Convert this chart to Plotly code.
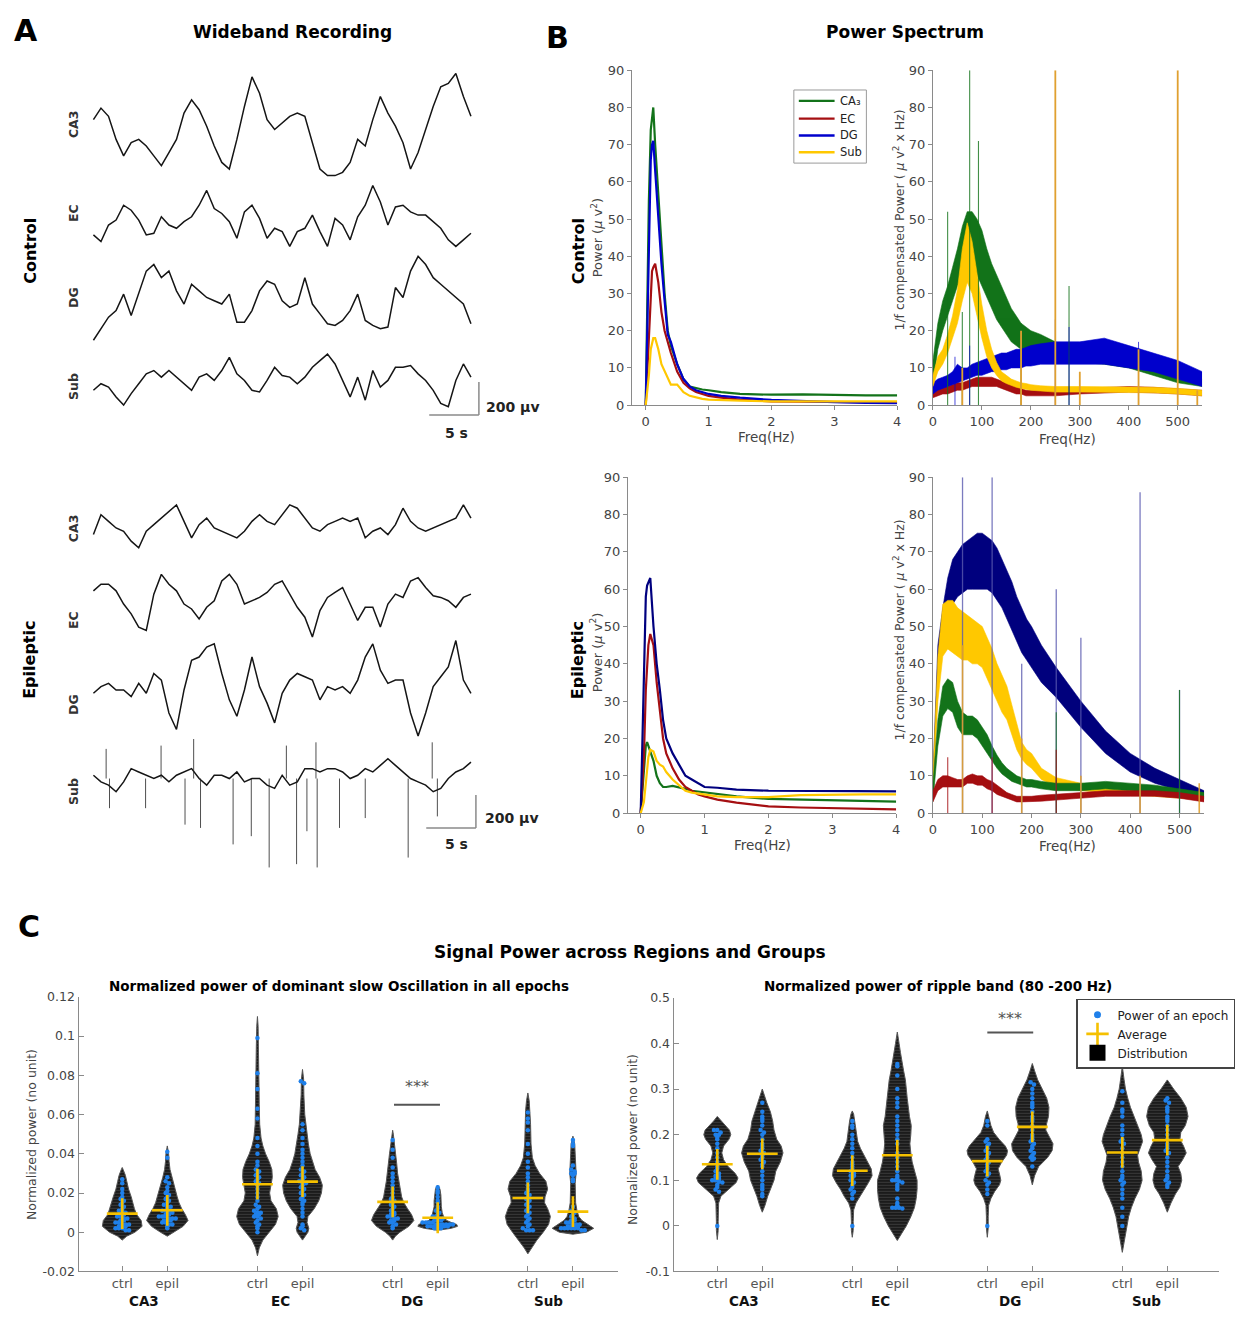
import plotly.graph_objects as go

W, H = 1235, 1319
FONT = "DejaVu Sans"

# ---------------- Panel A: wideband traces (µV) ----------------
A_DT = 0.76  # seconds between read samples
CTRL_CA3 = [120,190,140,0,-100,-20,0,-40,-100,-160,-80,0,160,240,180,80,-40,-140,-180,0,200,380,280,120,60,100,140,160,140,-20,-180,-220,-220,-200,-140,0,-40,120,260,160,80,-20,-180,-80,60,200,320,340,400,260,140]
CTRL_EC = [-100,-140,-40,-10,80,50,-10,-100,-90,10,-40,-60,-20,10,80,170,60,30,-20,-120,40,80,0,-120,-60,-80,-170,-80,-60,20,-80,-170,0,-40,-130,10,80,200,100,-40,70,80,40,20,20,-20,-60,-130,-170,-130,-90]
CTRL_DG = [-260,-190,-120,-80,20,-110,20,160,200,120,160,40,-40,80,40,0,-20,-40,20,-150,-150,-80,40,100,80,-20,-60,-40,120,-40,-100,-160,-170,-140,-80,20,-140,-170,-190,-180,60,0,160,250,200,120,80,40,0,-40,-160]
CTRL_SUB = [-60,-20,-40,-100,-150,-80,-20,40,60,20,60,20,-20,-60,20,40,0,60,140,40,0,-60,-70,0,80,30,20,-20,20,80,120,160,100,0,-100,20,-120,60,-40,0,80,80,90,40,0,-60,-140,-160,0,100,20]
EPIL_CA3 = [-60,60,20,-20,-40,-100,-140,-40,0,40,80,120,20,-80,0,40,-20,-40,-60,-80,-40,20,60,20,0,60,120,100,40,-20,-40,0,20,40,20,40,-80,-40,-20,-60,0,100,20,-20,-40,-20,0,20,40,120,40]
EPIL_EC = [60,100,100,60,-20,-80,-160,-180,40,160,100,60,-20,-50,-110,-40,0,120,160,100,-20,0,20,50,100,120,40,-40,-100,-220,-60,20,50,80,-20,-120,-40,-40,-160,-20,40,20,120,140,80,30,20,0,-40,20,40]
EPIL_DG = [-40,0,20,-20,-20,-60,20,-40,80,40,-160,-260,-20,160,180,240,260,80,-80,-180,-20,180,0,-100,-220,-40,40,80,60,40,-80,0,-20,0,-40,40,180,260,100,20,40,40,-160,-300,-160,0,60,120,280,40,-40]
EPIL_SUB = [20,-20,-40,-80,-20,60,40,20,0,20,-20,20,40,60,0,-40,20,20,0,40,-20,0,0,-40,-60,20,-40,-20,60,60,40,60,60,40,0,20,60,40,80,120,80,40,0,-20,-40,-80,-60,0,40,60,100]
EPIL_SUB_SPIKE_T = [1.62,5.25,9.22,10.78,14.06,15.89,17.69,20.45,21.49,22.52,24.77,27.36,31.68,34.62,1.28,6.81,10.09,19.42,22.4,34.1]
EPIL_SUB_SPIKE_V = [-180,-180,-280,-300,-400,-350,-540,-520,-320,-540,-300,-240,-480,-230,180,200,240,200,220,220]

# ---------------- Panel B: power spectra ----------------
F_LOW = [0,0.05,0.08,0.1,0.12,0.15,0.2,0.25,0.3,0.35,0.4,0.5,0.6,0.7,0.8,0.9,1.0,1.2,1.5,2.0,2.5,3.0,3.5,4.0]
CTRL_LOW_CA3 = [0,55,74,78,80,70,56,42,30,20,16,11,7,5,4.5,4.2,4,3.5,3,2.8,2.9,2.7,2.6,2.6]
CTRL_LOW_EC = [0,20,32,36,37,38,33,25,20,17,14,9,6,4.5,3.5,3,2.5,2,1.5,1,0.9,0.8,0.7,0.7]
CTRL_LOW_DG = [0,48,66,70,71,63,50,38,28,19,17,11,7,5,4,3.5,3,2.5,2,1.4,1,0.8,0.6,0.5]
CTRL_LOW_SUB = [0,8,15,17,18,18,15,11,9,7.5,5.5,5.5,3.5,2.5,2,1.7,1.5,1.3,1.2,1,1,1,1,1]
EPIL_LOW_CA3 = [0,12,18,19,18,16,14,10,8,7,7,7.3,7,6.5,6,5.8,5.5,5,4.5,3.8,3.6,3.3,3.2,3.1]
EPIL_LOW_EC = [0,15,33,40,45,48,45,35,28,20,16,12,9,7,6,5,4.5,3.6,2.8,1.8,1.5,1.3,1.1,1.0]
EPIL_LOW_DG = [0,35,58,61,62,63,50,40,33,25,20,16,13,10,9,8,7,6.8,6.3,6,6,5.8,5.8,5.8]
EPIL_LOW_SUB = [0,3,8,12,15,17,16.5,14,13,12.5,11,9,7.5,6,5.5,5.2,5,4.5,4.3,4.3,4.8,5,5,5]

F_HIGH = [0,10,20,30,40,50,60,70,80,90,100,110,120,130,140,150,160,170,180,190,200,220,250,300,350,400,450,500,550]
CTRL_HI_CA3_LO = [5,15,20,24,28,32,35,38,37,35,32,29,26,23,21,19,17,16,15,14,14,13,12,11.5,11,10,8,6,5]
CTRL_HI_CA3_UP = [12,22,28,32,37,42,48,52,52,50,47,42,38,35,32,29,26,24,22,21,20,19,17,15,14,13,11,9,7]
CTRL_HI_EC_LO = [2,2.5,3,3,3.5,4,4,4.5,5,5,5,5,5,5,4.5,4,3.5,3,3,2.5,2.5,2.5,2.5,3,3.2,3.5,3.3,3,2.5]
CTRL_HI_EC_UP = [4,4.5,5,5,5.5,6,6,6.5,7,7.5,7.5,7.5,7.5,7,6.5,6,5.5,5,4.5,4,4,4,4,4.5,4.8,5,4.8,4.5,4]
CTRL_HI_DG_LO = [3,4,4.5,5,5.5,6,6.5,7,7.5,8,8,8.5,9,9,9.5,9.5,10,10,10,10.5,10.5,11,11,11,11,10,9,7,5]
CTRL_HI_DG_UP = [6,7,7.5,8,9,11,10,10,11,11.5,12,12.5,13,13.5,14,14,14.5,15,15,15.5,16,16.5,17,17,18,16,14,12,9]
CTRL_HI_SUB_LO = [5,9,11,14,18,22,28,33,30,24,18,13,10,8,6.5,5.8,5.2,4.8,4.5,4.2,4,3.8,3.5,3.5,3.5,3.5,3.3,3,2.5]
CTRL_HI_SUB_UP = [8,13,15,19,24,31,42,49,44,35,27,20,15,11.5,9,8,7,6.5,6,5.8,5.5,5.2,5,5,5,5,4.8,4.5,4]
EPIL_HI_CA3_LO = [3,18,26,28,27,23,21,21,21,20,18,16,14,12,10.5,9.5,8.5,8,7.5,7,7,6.5,6,6,6.5,6,5.5,5,4]
EPIL_HI_CA3_UP = [8,25,34,36,35,30,27,26,26,25,23,21,18,15.5,13.5,12,11,10,9.5,9,9,8.5,8,8,8.5,8,7.5,6.5,5.5]
EPIL_HI_EC_LO = [3,6,7,7,7,7,7,8,8,7.5,7.5,6.5,6,5,4.5,4,3.5,3,3,3,3,3.2,3.5,4,4.5,4.5,4.5,4,3]
EPIL_HI_EC_UP = [6,9,10,10,9.5,9,9,10,10.5,10,10,9,8.5,7.5,6.5,5.5,5,4.5,4.5,4.5,4.5,4.8,5,5.5,6,6,6,5.5,4.5]
EPIL_HI_DG_LO = [5,35,45,52,56,58,59,60,60,60,60,60,59,57,55,52,49,46,43,41,39,35,31,23,16,11,8,6,4]
EPIL_HI_DG_UP = [10,45,55,63,68,70,72,73,74,75,75,74,73,71,68,65,62,58,55,52,50,45,39,30,22,16,12,9,6]
EPIL_HI_SUB_LO = [5,30,42,44,43,42,41,41,40,40,39,36,33,30,27,25,21,17,14.5,13,12,9,7,6,5.5,5,4.5,4,3.5]
EPIL_HI_SUB_UP = [10,42,56,57,57,55,54,53,52,51,50,47,44,40,37,34,29,24,19,17,16,12,9.5,8,7.5,7,6.5,6,5]

# narrow line-noise peaks (frequency, height)
CTRL_SPK_CA3_F = [30,60,75,93,180,278]
CTRL_SPK_CA3_H = [52,25,90,71,22,32]
CTRL_SPK_DG_F = [45,75,250,278,420]
CTRL_SPK_DG_H = [13,16,23,21,17]
CTRL_SPK_SUB_F = [60,180,250,300,420,500,540]
CTRL_SPK_SUB_H = [10,20,90,9,15,90,4]
EPIL_SPK_DG_F = [60,120,180,250,300,420,500]
EPIL_SPK_DG_H = [90,90,40,60,47,86,33]
EPIL_SPK_CA3_F = [250,500]
EPIL_SPK_CA3_H = [27,33]
EPIL_SPK_EC_F = [30,120,250]
EPIL_SPK_EC_H = [15,15,17]
EPIL_SPK_SUB_F = [60,180,300,420,540]
EPIL_SPK_SUB_H = [45,20,10,10,8]

REGION_NAMES_B = ["CA₃", "EC", "DG", "Sub"]

# ---------------- Panel C: violins ----------------
GROUP_POS = [1,2,4,5,7,8,10,11]
GROUP_TICKS = ["ctrl","epil"]*4
REGIONS = ["CA3","EC","DG","Sub"]

SLOW_MEAN = [0.0095,0.0112,0.0245,0.0258,0.0155,0.0074,0.0175,0.0105]
SLOW_POINTS = [
    [0.027,0.025,0.022,0.02,0.018,0.017,0.016,0.015,0.014,0.013,0.012,0.011,0.011,0.01,0.009,0.009,0.008,0.008,0.007,0.007,0.006,0.006,0.005,0.005,0.004,0.004,0.004,0.003,0.003,0.003,0.002,0.002,0.002,0.001,0.001],
    [0.041,0.038,0.028,0.026,0.025,0.023,0.021,0.02,0.019,0.018,0.017,0.016,0.015,0.014,0.013,0.013,0.012,0.011,0.011,0.01,0.01,0.009,0.009,0.008,0.008,0.008,0.007,0.007,0.007,0.006,0.006,0.006,0.005,0.005,0.004,0.004,0.003,0.002],
    [0.099,0.081,0.073,0.063,0.058,0.048,0.044,0.04,0.036,0.034,0.032,0.031,0.03,0.029,0.028,0.027,0.026,0.025,0.024,0.022,0.02,0.018,0.016,0.014,0.013,0.012,0.011,0.01,0.01,0.009,0.009,0.008,0.008,0.007,0.006,0.005,0.004,0.003,0.002,0.0],
    [0.077,0.076,0.055,0.052,0.048,0.045,0.042,0.04,0.038,0.036,0.034,0.032,0.031,0.03,0.029,0.028,0.027,0.026,0.025,0.025,0.024,0.023,0.022,0.021,0.02,0.019,0.018,0.017,0.016,0.015,0.014,0.012,0.01,0.008,0.004,0.003,0.002,0.001],
    [0.047,0.042,0.038,0.033,0.03,0.028,0.026,0.024,0.022,0.02,0.018,0.017,0.016,0.015,0.014,0.013,0.012,0.011,0.01,0.009,0.009,0.008,0.008,0.007,0.007,0.006,0.006,0.005,0.005,0.004,0.003,0.002],
    [0.023,0.021,0.02,0.018,0.016,0.015,0.013,0.012,0.011,0.01,0.009,0.008,0.008,0.007,0.007,0.006,0.006,0.006,0.005,0.005,0.005,0.005,0.004,0.004,0.004,0.004,0.004,0.004,0.003,0.003,0.003,0.003,0.003,0.003,0.003,0.002,0.002,0.002],
    [0.061,0.058,0.056,0.052,0.045,0.04,0.036,0.033,0.03,0.028,0.026,0.024,0.022,0.021,0.02,0.019,0.018,0.017,0.016,0.015,0.014,0.013,0.012,0.011,0.01,0.009,0.008,0.007,0.006,0.005,0.004,0.003,0.002,0.001,0.001,0.001],
    [0.047,0.045,0.044,0.034,0.032,0.031,0.03,0.03,0.029,0.027,0.026,0.013,0.011,0.01,0.009,0.008,0.007,0.006,0.006,0.005,0.005,0.004,0.004,0.004,0.003,0.003,0.003,0.003,0.002,0.002,0.002,0.002,0.002,0.002,0.001,0.001],
]
# violin outline: (value, half-width in group units)
SLOW_PROFILES = [
    [(-0.004,0),(-0.002,0.1),(0,0.28),(0.003,0.44),(0.006,0.42),(0.009,0.32),(0.012,0.27),(0.015,0.24),(0.018,0.2),(0.022,0.14),(0.026,0.1),(0.029,0.07),(0.032,0.02),(0.033,0)],
    [(-0.002,0),(0,0.15),(0.003,0.35),(0.006,0.46),(0.009,0.4),(0.012,0.32),(0.015,0.26),(0.018,0.22),(0.022,0.17),(0.025,0.14),(0.028,0.1),(0.032,0.06),(0.036,0.04),(0.04,0.03),(0.044,0)],
    [(-0.012,0),(-0.008,0.04),(-0.004,0.12),(0,0.26),(0.004,0.4),(0.008,0.46),(0.012,0.42),(0.016,0.3),(0.02,0.27),(0.024,0.3),(0.028,0.33),(0.032,0.32),(0.036,0.26),(0.04,0.18),(0.044,0.12),(0.048,0.08),(0.055,0.05),(0.065,0.04),(0.08,0.035),(0.095,0.025),(0.105,0.015),(0.11,0)],
    [(-0.004,0),(-0.002,0.06),(0,0.12),(0.002,0.14),(0.005,0.1),(0.008,0.12),(0.012,0.26),(0.016,0.36),(0.02,0.42),(0.024,0.44),(0.028,0.38),(0.032,0.28),(0.036,0.22),(0.04,0.17),(0.045,0.13),(0.05,0.1),(0.055,0.07),(0.06,0.05),(0.07,0.03),(0.078,0.025),(0.083,0)],
    [(-0.004,0),(-0.002,0.06),(0,0.16),(0.003,0.36),(0.006,0.47),(0.009,0.42),(0.012,0.33),(0.015,0.25),(0.018,0.2),(0.022,0.17),(0.026,0.14),(0.03,0.11),(0.035,0.09),(0.04,0.07),(0.045,0.04),(0.05,0.015),(0.052,0)],
    [(0.001,0),(0.002,0.3),(0.003,0.44),(0.004,0.42),(0.005,0.3),(0.006,0.2),(0.008,0.13),(0.01,0.1),(0.013,0.08),(0.016,0.08),(0.019,0.07),(0.022,0.05),(0.024,0)],
    [(-0.011,0),(-0.008,0.08),(-0.004,0.2),(0,0.34),(0.004,0.46),(0.008,0.5),(0.012,0.44),(0.015,0.37),(0.018,0.38),(0.022,0.44),(0.026,0.4),(0.03,0.26),(0.034,0.16),(0.038,0.1),(0.045,0.07),(0.055,0.06),(0.062,0.05),(0.067,0.03),(0.071,0)],
    [(-0.001,0),(0,0.3),(0.002,0.46),(0.004,0.32),(0.006,0.2),(0.008,0.13),(0.011,0.09),(0.015,0.06),(0.02,0.05),(0.025,0.05),(0.03,0.07),(0.034,0.06),(0.04,0.05),(0.045,0.04),(0.049,0)],
]

RIPPLE_MEAN = [0.135,0.158,0.121,0.155,0.142,0.217,0.161,0.188]
RIPPLE_POINTS = [
    [0.21,0.21,0.205,0.2,0.2,0.195,0.19,0.18,0.17,0.16,0.15,0.14,0.13,0.125,0.12,0.115,0.11,0.108,0.105,0.103,0.1,0.1,0.097,0.095,0.09,0.085,0.08,0.075,0.0],
    [0.27,0.25,0.24,0.235,0.23,0.22,0.21,0.205,0.2,0.19,0.18,0.175,0.17,0.165,0.16,0.155,0.15,0.145,0.14,0.135,0.13,0.12,0.11,0.1,0.09,0.085,0.08,0.07,0.065],
    [0.23,0.22,0.215,0.2,0.19,0.18,0.17,0.16,0.15,0.14,0.135,0.13,0.125,0.12,0.115,0.11,0.11,0.105,0.1,0.095,0.09,0.085,0.08,0.075,0.07,0.06,0.0],
    [0.355,0.35,0.33,0.3,0.28,0.27,0.26,0.24,0.23,0.22,0.21,0.2,0.19,0.18,0.16,0.15,0.14,0.13,0.12,0.11,0.105,0.1,0.1,0.098,0.095,0.09,0.085,0.08,0.06,0.05,0.045,0.04,0.04,0.04,0.038],
    [0.23,0.22,0.19,0.185,0.18,0.175,0.17,0.165,0.16,0.155,0.15,0.145,0.14,0.135,0.13,0.125,0.12,0.115,0.11,0.1,0.095,0.09,0.08,0.07,0.0],
    [0.315,0.31,0.3,0.29,0.28,0.27,0.265,0.26,0.25,0.24,0.235,0.23,0.22,0.21,0.2,0.195,0.19,0.185,0.18,0.175,0.17,0.165,0.16,0.155,0.15,0.148,0.145,0.13],
    [0.295,0.27,0.255,0.25,0.24,0.22,0.21,0.2,0.19,0.185,0.18,0.17,0.16,0.15,0.14,0.13,0.12,0.11,0.105,0.1,0.095,0.09,0.08,0.07,0.06,0.04,0.02,0.0],
    [0.28,0.275,0.27,0.26,0.255,0.25,0.24,0.235,0.23,0.22,0.21,0.2,0.19,0.18,0.175,0.17,0.165,0.16,0.15,0.14,0.13,0.12,0.11,0.105,0.1,0.095,0.09,0.085],
]
RIPPLE_PROFILES = [
    [(-0.03,0),(-0.01,0.02),(0.01,0.02),(0.03,0.02),(0.05,0.03),(0.065,0.08),(0.08,0.24),(0.095,0.42),(0.105,0.46),(0.115,0.4),(0.13,0.24),(0.145,0.14),(0.16,0.1),(0.175,0.14),(0.19,0.26),(0.2,0.3),(0.21,0.27),(0.22,0.18),(0.23,0.08),(0.24,0)],
    [(0.03,0),(0.045,0.06),(0.065,0.12),(0.085,0.2),(0.1,0.26),(0.12,0.3),(0.14,0.4),(0.16,0.46),(0.175,0.42),(0.19,0.32),(0.21,0.26),(0.23,0.23),(0.25,0.18),(0.27,0.1),(0.285,0.05),(0.3,0)],
    [(-0.025,0),(-0.01,0.02),(0.01,0.02),(0.035,0.03),(0.05,0.08),(0.065,0.18),(0.08,0.26),(0.095,0.36),(0.11,0.44),(0.125,0.42),(0.14,0.34),(0.155,0.26),(0.17,0.18),(0.185,0.12),(0.2,0.1),(0.215,0.08),(0.23,0.06),(0.245,0.03),(0.252,0)],
    [(-0.032,0),(-0.02,0.08),(0,0.2),(0.02,0.3),(0.04,0.38),(0.06,0.42),(0.08,0.44),(0.1,0.44),(0.12,0.38),(0.14,0.33),(0.16,0.3),(0.18,0.28),(0.2,0.3),(0.22,0.31),(0.24,0.27),(0.26,0.24),(0.28,0.22),(0.3,0.2),(0.32,0.18),(0.34,0.14),(0.36,0.1),(0.38,0.07),(0.4,0.04),(0.425,0)],
    [(-0.025,0),(-0.005,0.02),(0.02,0.02),(0.045,0.03),(0.06,0.08),(0.075,0.16),(0.09,0.27),(0.1,0.3),(0.11,0.28),(0.125,0.24),(0.14,0.32),(0.155,0.43),(0.165,0.45),(0.175,0.4),(0.19,0.26),(0.205,0.14),(0.22,0.08),(0.24,0.04),(0.252,0)],
    [(0.09,0),(0.11,0.05),(0.13,0.14),(0.15,0.34),(0.165,0.44),(0.18,0.46),(0.195,0.38),(0.21,0.3),(0.225,0.32),(0.24,0.36),(0.26,0.37),(0.28,0.32),(0.3,0.22),(0.32,0.12),(0.34,0.05),(0.356,0)],
    [(-0.058,0),(-0.04,0.03),(-0.02,0.06),(0,0.1),(0.02,0.14),(0.04,0.2),(0.06,0.28),(0.08,0.38),(0.1,0.44),(0.12,0.42),(0.14,0.36),(0.155,0.34),(0.17,0.4),(0.185,0.45),(0.2,0.42),(0.22,0.34),(0.24,0.27),(0.26,0.18),(0.28,0.12),(0.3,0.07),(0.32,0.04),(0.35,0)],
    [(0.03,0),(0.05,0.08),(0.07,0.18),(0.085,0.28),(0.1,0.32),(0.115,0.3),(0.13,0.24),(0.145,0.34),(0.16,0.42),(0.175,0.36),(0.19,0.28),(0.205,0.3),(0.22,0.4),(0.24,0.46),(0.26,0.42),(0.28,0.3),(0.3,0.14),(0.32,0)],
]

# ---------------- helpers (page pixel -> paper fraction) ----------------
def PX(x):
    return x / W

def PY(y):
    return 1 - y / H

def xdom(a, b):
    return [PX(a), PX(b)]

def ydom(top, bot):
    return [PY(bot), PY(top)]

annotations = []

def ann(text, x, y, size=13, color="#222", bold=False, angle=0, xanchor="center", yanchor="middle"):
    annotations.append(dict(
        text=f"<b>{text}</b>" if bold else text, x=PX(x), y=PY(y), xref="paper", yref="paper",
        showarrow=False, font=dict(family=FONT, size=size, color=color), textangle=angle,
        xanchor=xanchor, yanchor=yanchor))

GREEN = "#13731a"
RED = "#a50f12"
BLUE = "#0000cc"
NAVY = "#00007f"
YELLOW = "#ffc800"
ORANGE = "#e0a030"
DOT = "#1f80ea"

fig = go.Figure()
shapes = []

# ---------------- Panel A ----------------
A_UVPX = 6.0
def a_off(py):
    return (880 - py) * A_UVPX

a_rows = [(CTRL_CA3, 133), (CTRL_EC, 213), (CTRL_DG, 293), (CTRL_SUB, 377),
          (EPIL_CA3, 523), (EPIL_EC, 600), (EPIL_DG, 687), (EPIL_SUB, 780)]
for vals, base in a_rows:
    t = [i * A_DT for i in range(len(vals))]
    off = a_off(base)
    fig.add_trace(go.Scatter(x=t, y=[v + off for v in vals], mode="lines",
                             line=dict(color="#151515", width=1.5), showlegend=False,
                             xaxis="x", yaxis="y", hoverinfo="skip"))
sx, sy = [], []
off = a_off(780)
for t, v in zip(EPIL_SUB_SPIKE_T, EPIL_SUB_SPIKE_V):
    sx += [t, t, None]
    sy += [off, off + v, None]
fig.add_trace(go.Scatter(x=sx, y=sy, mode="lines", line=dict(color="#222", width=0.8),
                         showlegend=False, xaxis="x", yaxis="y", hoverinfo="skip"))

for (xv, pb, hx0) in [(38.8, 412, 33.8), (38.5, 830, 33.5)]:
    yb = a_off(pb)
    shapes.append(dict(type="line", xref="x", yref="y", x0=xv, x1=xv, y0=yb, y1=yb + 200,
                       line=dict(color="#8a8a8a", width=1.5)))
    shapes.append(dict(type="line", xref="x", yref="y", x0=hx0, x1=xv, y0=yb, y1=yb,
                       line=dict(color="#8a8a8a", width=1.5)))
ann("200 µv", 483, 404, size=14, bold=True, xanchor="left")
ann("5 s", 455, 430, size=14, bold=True)
ann("200 µv", 482, 820, size=14, bold=True, xanchor="left")
ann("5 s", 455, 846, size=14, bold=True)

ann("A", 22, 23, size=30, bold=True, color="#000")
ann("Wideband Recording", 290, 24, size=17, bold=True, color="#000")
for lbl, y in [("CA3", 118), ("EC", 208), ("DG", 293), ("Sub", 383),
               ("CA3", 527), ("EC", 620), ("DG", 705), ("Sub", 793)]:
    ann(lbl, 70, y, size=12.5, bold=True, color="#333", angle=-90)
ann("Control", 26, 246, size=16, bold=True, color="#000", angle=-90)
ann("Epileptic", 26, 660, size=16, bold=True, color="#000", angle=-90)

# ---------------- Panel B ----------------
def band(f, lo, up, color, xa, ya):
    fig.add_trace(go.Scatter(x=f, y=lo, mode="lines", line=dict(width=0.6, color=color),
                             showlegend=False, xaxis=xa, yaxis=ya, hoverinfo="skip"))
    fig.add_trace(go.Scatter(x=f, y=up, mode="lines", line=dict(width=0.6, color=color),
                             fill="tonexty", fillcolor=color, showlegend=False,
                             xaxis=xa, yaxis=ya, hoverinfo="skip"))

def spikes(f, h, color, xa, ya, width=1.2, opacity=1.0):
    xs, ys = [], []
    for a, b in zip(f, h):
        xs += [a, a, None]
        ys += [0, b, None]
    fig.add_trace(go.Scatter(x=xs, y=ys, mode="lines", line=dict(color=color, width=width),
                             opacity=opacity, showlegend=False, xaxis=xa, yaxis=ya, hoverinfo="skip"))

for vals, col in [(CTRL_LOW_CA3, GREEN), (CTRL_LOW_EC, RED), (CTRL_LOW_DG, BLUE), (CTRL_LOW_SUB, YELLOW)]:
    fig.add_trace(go.Scatter(x=F_LOW, y=vals, mode="lines", line=dict(color=col, width=2.2),
                             showlegend=False, xaxis="x2", yaxis="y2"))

band(F_HIGH, CTRL_HI_CA3_LO, CTRL_HI_CA3_UP, GREEN, "x3", "y3")
band(F_HIGH, CTRL_HI_EC_LO, CTRL_HI_EC_UP, RED, "x3", "y3")
band(F_HIGH, CTRL_HI_DG_LO, CTRL_HI_DG_UP, BLUE, "x3", "y3")
band(F_HIGH, CTRL_HI_SUB_LO, CTRL_HI_SUB_UP, YELLOW, "x3", "y3")
spikes(CTRL_SPK_CA3_F, CTRL_SPK_CA3_H, GREEN, "x3", "y3", 1.1, 0.8)
spikes(CTRL_SPK_DG_F, CTRL_SPK_DG_H, BLUE, "x3", "y3", 1.0, 0.7)
spikes(CTRL_SPK_SUB_F, CTRL_SPK_SUB_H, ORANGE, "x3", "y3", 1.8, 1.0)

for vals, col in [(EPIL_LOW_CA3, GREEN), (EPIL_LOW_EC, RED), (EPIL_LOW_DG, NAVY), (EPIL_LOW_SUB, YELLOW)]:
    fig.add_trace(go.Scatter(x=F_LOW, y=vals, mode="lines", line=dict(color=col, width=2.2),
                             showlegend=False, xaxis="x4", yaxis="y4"))

band(F_HIGH, EPIL_HI_DG_LO, EPIL_HI_DG_UP, NAVY, "x5", "y5")
band(F_HIGH, EPIL_HI_SUB_LO, EPIL_HI_SUB_UP, YELLOW, "x5", "y5")
band(F_HIGH, EPIL_HI_CA3_LO, EPIL_HI_CA3_UP, GREEN, "x5", "y5")
band(F_HIGH, EPIL_HI_EC_LO, EPIL_HI_EC_UP, RED, "x5", "y5")
spikes(EPIL_SPK_DG_F, EPIL_SPK_DG_H, "#5a5ab0", "x5", "y5", 1.3, 0.8)
spikes(EPIL_SPK_CA3_F, EPIL_SPK_CA3_H, GREEN, "x5", "y5", 1.1, 0.8)
spikes(EPIL_SPK_EC_F, EPIL_SPK_EC_H, RED, "x5", "y5", 1.1, 0.8)
spikes(EPIL_SPK_SUB_F, EPIL_SPK_SUB_H, ORANGE, "x5", "y5", 1.6, 0.9)

# legend box of panel B (framed key)
shapes.append(dict(type="rect", xref="paper", yref="paper", x0=PX(795), x1=PX(868), y0=PY(157), y1=PY(83),
                   line=dict(color="#9a9a9a", width=1), fillcolor="white", layer="above"))
for name, col, yy in zip(REGION_NAMES_B, [GREEN, RED, BLUE, YELLOW], [94, 112, 129, 146]):
    shapes.append(dict(type="line", xref="paper", yref="paper", x0=PX(800), x1=PX(836), y0=PY(yy), y1=PY(yy),
                       line=dict(color=col, width=2.4), layer="above"))
    ann(name, 839, yy, size=11.5, color="#222", xanchor="left")

ann("B", 557, 30, size=30, bold=True, color="#000")
ann("Power Spectrum", 907, 24, size=17, bold=True, color="#000")
ann("Control", 578, 246, size=16, bold=True, color="#000", angle=-90)
ann("Power (<i>μ</i> v<sup>2</sup>)", 597, 232, size=13, color="#444", angle=-90)
ann("Epileptic", 578, 660, size=16, bold=True, color="#000", angle=-90)
ann("Power (<i>μ</i> v<sup>2</sup>)", 596, 652, size=13, color="#444", angle=-90)
ann("1/f compensated Power ( <i>μ</i> v<sup>2</sup> x Hz)", 901, 215, size=12.5, color="#444", angle=-90)
ann("1/f compensated Power ( <i>μ</i> v<sup>2</sup> x Hz)", 901, 630, size=12.5, color="#444", angle=-90)
ann("Freq(Hz)", 767, 434, size=13.5, color="#444")
ann("Freq(Hz)", 1070, 436, size=13.5, color="#444")
ann("Freq(Hz)", 763, 847, size=13.5, color="#444")
ann("Freq(Hz)", 1070, 848, size=13.5, color="#444")

# ---------------- Panel C ----------------
def swarm_offsets(vals, bin_size, step):
    # deterministic beeswarm layout: points sharing a value bin are spread sideways
    bins = {}
    for i, v in enumerate(vals):
        bins.setdefault(round(v / bin_size), []).append(i)
    offs = [0.0] * len(vals)
    for idx in bins.values():
        n = len(idx)
        for k, i in enumerate(idx):
            offs[i] = (k - (n - 1) / 2) * step
    return offs

def violins(profiles, points, means, xa, ya, bin_size):
    for pos, prof in zip(GROUP_POS, profiles):
        ys = [p[0] for p in prof]
        ws = [p[1] for p in prof]
        vx = [pos + w for w in ws] + [pos - w for w in reversed(ws)]
        vy = ys + ys[::-1]
        fig.add_trace(go.Scatter(x=vx, y=vy, mode="lines", fill="toself",
                                 fillcolor="#1d1d1d", line=dict(color="#555", width=1),
                                 fillpattern=dict(shape="-", bgcolor="#1b1b1b", fgcolor="#6a6a6a",
                                                  size=3, solidity=0.25),
                                 showlegend=False, xaxis=xa, yaxis=ya, hoverinfo="skip"))
    for pos, pts in zip(GROUP_POS, points):
        offs = swarm_offsets(pts, bin_size, 0.075)
        fig.add_trace(go.Scatter(x=[pos + o for o in offs], y=pts, mode="markers",
                                 marker=dict(color=DOT, size=4.5), showlegend=False,
                                 xaxis=xa, yaxis=ya))
    fig.add_trace(go.Scatter(x=GROUP_POS, y=means, mode="markers",
                             marker=dict(symbol="cross-thin", size=22,
                                         line=dict(width=2.6, color="#f5c000")),
                             showlegend=False, xaxis=xa, yaxis=ya))

violins(SLOW_PROFILES, SLOW_POINTS, SLOW_MEAN, "x6", "y6", 0.0015)
violins(RIPPLE_PROFILES, RIPPLE_POINTS, RIPPLE_MEAN, "x7", "y7", 0.0065)

fig.add_trace(go.Scatter(x=[None], y=[None], mode="markers", name="Power of an epoch",
                         marker=dict(color=DOT, size=7), legend="legend2",
                         xaxis="x7", yaxis="y7"))
fig.add_trace(go.Scatter(x=[None], y=[None], mode="markers", name="Average",
                         marker=dict(symbol="cross-thin", size=20, line=dict(width=2.6, color="#f5c000")),
                         legend="legend2", xaxis="x7", yaxis="y7"))
fig.add_trace(go.Scatter(x=[None], y=[None], mode="markers", name="Distribution",
                         marker=dict(symbol="square", size=17, color="#000"), legend="legend2",
                         xaxis="x7", yaxis="y7"))

shapes.append(dict(type="line", xref="x6", yref="y6", x0=7.03, x1=8.05, y0=0.065, y1=0.065,
                   line=dict(color="#555", width=2)))
shapes.append(dict(type="line", xref="x7", yref="y7", x0=7.0, x1=8.02, y0=0.424, y1=0.424,
                   line=dict(color="#555", width=2)))
annotations.append(dict(text="***", x=7.54, y=0.0685, xref="x6", yref="y6", showarrow=False,
                        font=dict(family=FONT, size=16, color="#555"), yanchor="bottom"))
annotations.append(dict(text="***", x=7.51, y=0.43, xref="x7", yref="y7", showarrow=False,
                        font=dict(family=FONT, size=16, color="#555"), yanchor="bottom"))

for name, xl, xr in zip(REGIONS, [141, 278, 411, 548], [745, 882, 1013, 1150]):
    ann(name, xl, 1309, size=13.5, bold=True, color="#111")
    ann(name, xr, 1309, size=13.5, bold=True, color="#111")

ann("C", 25, 930, size=30, bold=True, color="#000")
ann("Signal Power across Regions and Groups", 630, 956, size=17, bold=True, color="#000")
ann("Normalized power of dominant slow Oscillation in all epochs", 337, 990, size=13.5, bold=True, color="#000")
ann("Normalized power of ripple band (80 -200 Hz)", 940, 990, size=13.5, bold=True, color="#000")
ann("Normalized power (no unit)", 27, 1140, size=12.5, color="#444", angle=-90)
ann("Normalized power (no unit)", 632, 1145, size=12.5, color="#444", angle=-90)

# ---------------- axes ----------------
tickf = dict(family=FONT, size=13, color="#444")

def b_x(dom, rng, vals):
    return dict(domain=dom, range=rng, tickvals=vals, showline=True, linecolor="#8a8a8a",
                linewidth=1, ticks="outside", ticklen=4, tickcolor="#8a8a8a", tickfont=tickf,
                showgrid=False, zeroline=False)

def b_y(dom, xa):
    return dict(domain=dom, range=[0, 90], tickvals=list(range(0, 91, 10)), showline=True,
                linecolor="#8a8a8a", linewidth=1, ticks="outside", ticklen=4, tickcolor="#8a8a8a",
                tickfont=tickf, showgrid=False, zeroline=False, anchor=xa)

def c_x(dom, rng, ya):
    return dict(domain=dom, range=rng, tickvals=GROUP_POS, ticktext=GROUP_TICKS, showline=True,
                linecolor="#8a8a8a", linewidth=1.2, ticks="inside", ticklen=5, tickcolor="#8a8a8a",
                tickfont=dict(family=FONT, size=13, color="#555"), showgrid=False, zeroline=False,
                anchor=ya)

def c_y(dom, rng, vals, texts, xa):
    return dict(domain=dom, range=rng, tickvals=vals, ticktext=texts, showline=True,
                linecolor="#8a8a8a", linewidth=1.2, ticks="inside", ticklen=5, tickcolor="#8a8a8a",
                tickfont=dict(family=FONT, size=12.5, color="#444"), showgrid=False, zeroline=False,
                anchor=xa)

fig.update_layout(
    width=W, height=H, margin=dict(l=0, r=0, t=0, b=0),
    paper_bgcolor="white", plot_bgcolor="rgba(0,0,0,0)",
    font=dict(family=FONT), showlegend=True,
    xaxis=dict(domain=xdom(60, 540), range=[-3, 45], visible=False),
    yaxis=dict(domain=ydom(40, 880), range=[0, 840 * A_UVPX], visible=False),
    xaxis2=dict(b_x(xdom(632, 899), [-0.22, 4.0], [0, 1, 2, 3, 4]), anchor="y2"),
    yaxis2=b_y(ydom(63, 402), "x2"),
    xaxis3=dict(b_x(xdom(935, 1206), [0, 550], [0, 100, 200, 300, 400, 500]), anchor="y3"),
    yaxis3=b_y(ydom(63, 402), "x3"),
    xaxis4=dict(b_x(xdom(628, 898), [-0.2, 4.0], [0, 1, 2, 3, 4]), anchor="y4"),
    yaxis4=b_y(ydom(475, 815), "x4"),
    xaxis5=dict(b_x(xdom(935, 1208), [0, 550], [0, 100, 200, 300, 400, 500]), anchor="y5"),
    yaxis5=b_y(ydom(475, 815), "x5"),
    xaxis6=c_x(xdom(75, 618), [0.03, 12.0], "y6"),
    yaxis6=c_y(ydom(1001, 1279), [-0.02, 0.12], [-0.02, 0, 0.02, 0.04, 0.06, 0.08, 0.1, 0.12],
               ["-0.02", "0", "0.02", "0.04", "0.06", "0.08", "0.1", "0.12"], "x6"),
    xaxis7=c_x(xdom(674, 1223), [0.03, 12.15], "y7"),
    yaxis7=c_y(ydom(1002, 1279), [-0.1, 0.5], [-0.1, 0, 0.1, 0.2, 0.3, 0.4, 0.5],
               ["-0.1", "0", "0.1", "0.2", "0.3", "0.4", "0.5"], "x7"),
    legend2=dict(x=PX(1079), y=PY(1003), xanchor="left", yanchor="top", bordercolor="#444",
                 borderwidth=1.5, bgcolor="white", font=dict(family=FONT, size=12, color="#222"),
                 tracegroupgap=0, itemwidth=30, traceorder="normal"),
    annotations=annotations, shapes=shapes,
)

fig.write_html("out.html", config={"displayModeBar": False},
               post_script="document.body.style.margin='0';document.body.style.overflow='hidden';")
